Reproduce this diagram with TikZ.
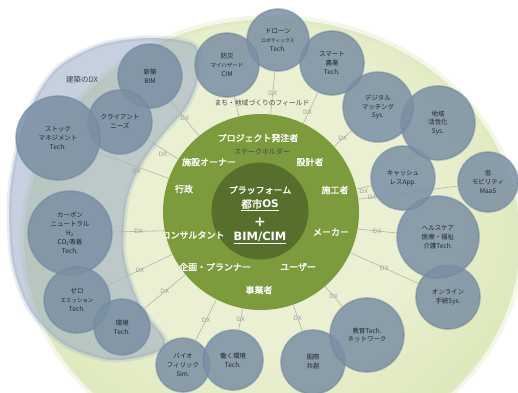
\documentclass[tikz,border=0pt]{standalone}
\usepackage{fontspec}
\setmainfont{Noto Sans CJK JP}[AutoFakeBold=2]
\newfontfamily\dvs{DejaVu Sans}
\definecolor{cream}{HTML}{EBF0D2}
\definecolor{fieldmid}{HTML}{D8E5B0}
\definecolor{fieldedge}{HTML}{C3D78E}
\definecolor{bluedx}{HTML}{8FA3BF}
\definecolor{ocfill}{HTML}{7A8FA3}
\definecolor{ocedge}{HTML}{6F86A0}
\definecolor{octext}{HTML}{1E2830}
\definecolor{gmid}{HTML}{7C9B3C}
\definecolor{gcore}{HTML}{566F2C}
\definecolor{dxgrey}{HTML}{9C9C9C}
\definecolor{linegrey}{HTML}{B0B4B0}
\definecolor{labgrey}{HTML}{454545}
\pgfdeclareradialshading{fieldshade}{\pgfpoint{-2.2bp}{6.4bp}}{color(0bp)=(cream); color(17bp)=(cream); color(32bp)=(fieldmid); color(50bp)=(fieldedge)}
\pgfdeclarelayer{bg}
\pgfdeclarelayer{ln}
\pgfsetlayers{bg,ln,main}
\begin{document}
\begin{tikzpicture}[x=1bp,y=-1bp,
  oc/.style={circle, fill=ocfill, fill opacity=.85, text opacity=1, draw=ocedge, draw opacity=.55,
    line width=1.6bp, text=octext, font=\fontsize{6.5}{9}\selectfont, align=center, inner sep=0pt},
  stake/.style={text=white, font=\fontsize{9}{10}\selectfont\bfseries, inner sep=1bp},
  coretext/.style={text=white, inner sep=1bp},
  dxline/.style={draw=linegrey, line width=.6bp},
  dxlab/.style={text=dxgrey, font=\dvs\fontsize{6}{7}\selectfont, inner sep=1bp}]
\useasboundingbox (0,0) rectangle (518,392);
\begin{pgfonlayer}{bg}
\fill[white] (0,0) rectangle (518,392);
\fill[fieldedge, opacity=.2] (272,240) ellipse [x radius=252, y radius=225];
\fill[fieldedge, opacity=.4] (272,240) ellipse [x radius=248, y radius=221];
\path[shading=fieldshade] (272,240) ellipse [x radius=245, y radius=218];
\fill[bluedx, fill opacity=.5, draw=bluedx, draw opacity=.2, line width=5bp]
  plot[smooth cycle] coordinates {(195,45) (150,38) (100,45) (55,70) (25,120) (10,190) (12,260)
  (30,310) (65,345) (110,360) (152,354) (165,340) (140,305) (124,255) (127,200) (142,163)
  (165,132) (186,108) (198,78)};
\node[text=labgrey, font=\fontsize{7.5}{9}\selectfont] (kdx) at (82,80) {建築のDX};
\end{pgfonlayer}

% green centre
\node[circle, fill=gmid, minimum size=196bp, inner sep=0pt] (g) at (261,212) {};
\node[circle, fill=gcore, minimum size=97bp, inner sep=0pt] (core) at (260,211) {};
\node[coretext, font=\fontsize{9}{10}\selectfont\bfseries] (pf) at (260,190) {プラッフォーム};
\node[coretext, font=\fontsize{10.5}{12}\selectfont\bfseries] (os) at (260,205) {\underline{都市{\dvs OS}}};
\node[coretext, font=\dvs\fontsize{14}{14}\selectfont\bfseries] (plus) at (260,222) {+};
\node[coretext, font=\dvs\fontsize{11.5}{12}\selectfont\bfseries] (bim) at (260,238) {\underline{BIM/CIM}};

% stakeholders
\node[stake] (s1) at (258,138) {プロジェクト発注者};
\node[text=labgrey, font=\fontsize{7}{8}\selectfont, inner sep=1bp] (sh) at (262,152) {ステークホルダー};
\node[stake] (s2) at (209,162) {施設オーナー};
\node[stake] (s3) at (310,162) {設計者};
\node[stake] (s4) at (184,189) {行政};
\node[stake] (s5) at (335,190) {施工者};
\node[stake] (s6) at (193,235) {コンサルタント};
\node[stake] (s7) at (331,232) {メーカー};
\node[stake] (s8) at (215,267) {企画・プランナー};
\node[stake] (s9) at (298,267) {ユーザー};
\node[stake] (s10) at (259,290) {事業者};

\node[text=labgrey, font=\fontsize{6.8}{8}\selectfont, inner sep=1bp] (field) at (262,103) {まち・地域づくりのフィールド};

% outer circles
\node[oc, minimum size=64bp] (sbim) at (150,76) {新築\\BIM};
\node[oc, minimum size=64bp] (client) at (120,122) {クライアント\\ニーズ};
\node[oc, minimum size=84bp] (stock) at (58,138) {ストック\\マネジメント\\Tech.};
\node[oc, minimum size=84bp] (carbon) at (70,233) {カーボン\\ニュートラル\\H\textsubscript{2}\\CO\textsubscript{2}吸着\\Tech.};
\node[oc, minimum size=66bp] (zero) at (77,300) {ゼロ\\{\fontsize{5.5}{7}\selectfont エミッション}\\Tech.};
\node[oc, minimum size=56bp] (env) at (122,327) {環境\\Tech.};
\node[oc, minimum size=54bp] (bio) at (183,365) {バイオ\\フィリック\\Sim.};
\node[oc, minimum size=60bp] (work) at (233,360) {働く環境\\Tech.};
\node[oc, minimum size=64bp] (intl) at (313,362) {国際\\共創};
\node[oc, minimum size=74bp] (edu) at (367,335) {教育Tech.\\ネットワーク};
\node[oc, minimum size=64bp] (online) at (448,297) {オンライン\\手続Sys.};
\node[oc, minimum size=82bp] (health) at (438,237) {ヘルスケア\\医療・福祉\\介護Tech.};
\node[oc, minimum size=64bp] (cash) at (403,178) {キャッシュ\\レスApp.};
\node[oc, minimum size=60bp] (maas) at (488,182) {低\\モビリティ\\MaaS};
\node[oc, minimum size=74bp] (region) at (438,123) {地域\\活性化\\Sys.};
\node[oc, minimum size=70bp] (match) at (378,107) {デジタル\\マッチング\\Sys.};
\node[oc, minimum size=64bp] (farm) at (332,63) {スマート\\農業\\Tech.};
\node[oc, minimum size=62bp] (drone) at (278,40) {ドローン\\{\fontsize{4.8}{6}\selectfont ロボティックス}\\Tech.};
\node[oc, minimum size=64bp] (bosai) at (227,65) {防災\\{\fontsize{5.5}{7}\selectfont マイハザード}\\CIM};

% DX connectors
\begin{pgfonlayer}{ln}
\draw[dxline] (g) -- node[dxlab] (dx1) {DX} (sbim);
\draw[dxline] (g) -- node[dxlab, yshift=-5bp] (dx2) {DX} (client);
\draw[dxline] (g) -- node[dxlab, xshift=3bp, yshift=-6bp] (dx3) {DX} (stock);
\draw[dxline] (g.191) -- node[dxlab] (dx4) {DX} (carbon);
\draw[dxline] (g) -- node[dxlab] (dx5) {DX} (zero);
\draw[dxline] (g) -- node[dxlab] (dx6) {DX} (env);
\draw[dxline] (g) -- node[dxlab] (dx7) {DX} (bio);
\draw[dxline] (g) -- node[dxlab] (dx8) {DX} (work);
\draw[dxline] (g) -- node[dxlab] (dx9) {DX} (intl);
\draw[dxline] (g) -- node[dxlab] (dx10) {DX} (edu);
\draw[dxline] (g) -- node[dxlab] (dx11) {DX} (online);
\draw[dxline] (g.-10) -- node[dxlab] (dx12) {DX} (health);
\draw[dxline] (g) -- node[dxlab, yshift=-4bp] (dx13) {DX} (cash);
\draw[dxline] (g) -- node[dxlab, pos=.14] (dx14) {DX} (maas);
\draw[dxline] (g) -- node[dxlab] (dx15) {DX} (match);
\draw[dxline] (g) -- node[dxlab, xshift=-3bp, yshift=-4bp] (dx16) {DX} (farm);
\draw[dxline] (g) -- node[dxlab] (dx17) {DX} (drone);
\draw[dxline] (g) -- (bosai);
\end{pgfonlayer}
\end{tikzpicture}
\end{document}
